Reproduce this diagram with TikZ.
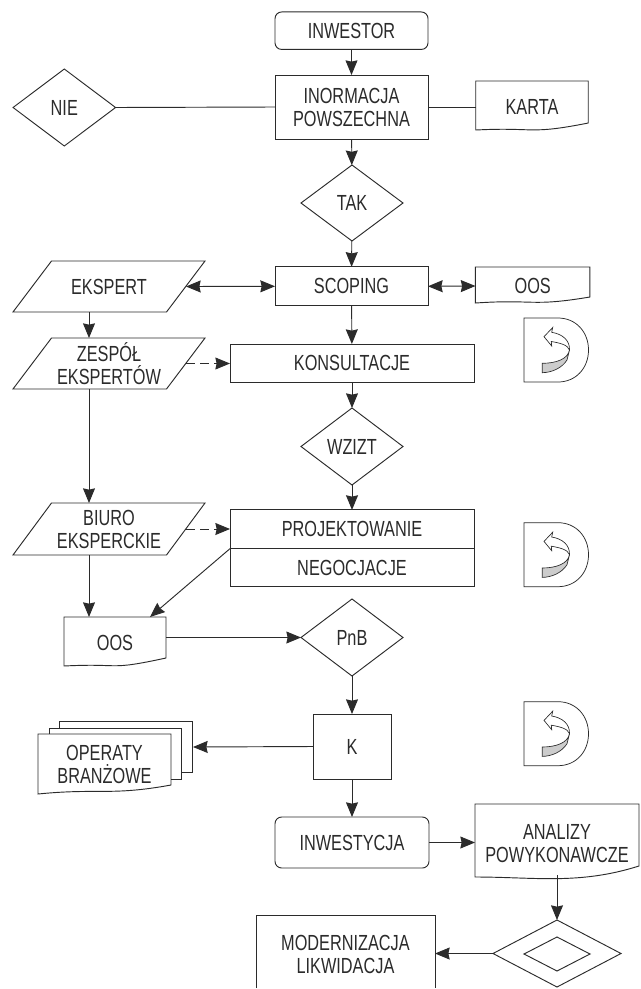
\documentclass[tikz,border=0pt]{standalone}
\usepackage{fontspec}
\setmainfont[FakeStretch=0.745]{Liberation Sans}
\usetikzlibrary{arrows.meta,shapes.geometric}
\definecolor{ink}{HTML}{2B2B2B}
\tikzset{
  base/.style={inner sep=0pt,outer sep=0pt,align=center,text=ink,
    font=\fontsize{16.4}{17.25}\selectfont},
  size/.style 2 args={minimum width=#1*0.75pt,minimum height=#2*0.75pt},
  box/.style={base,draw=ink,line width=.7pt},
  rbox/.style={box,rounded corners=5pt},
  free/.style={base},
  dec/.style={base,shape=diamond,draw=ink,line width=.7pt},
  outl/.style={draw=ink,line width=.7pt},
  conn/.style={draw=ink,line width=.7pt,>={Stealth[length=11pt,width=9pt,inset=1pt]}},
  dashconn/.style={conn,dash pattern=on 7pt off 3.5pt},
}
\newcommand{\docshape}[3]{% name, left-bottom offset, right-bottom offset
  \draw[outl] ([shift={(0,#2)}]#1.south west) -- (#1.north west) -- (#1.north east)
    -- ([shift={(0,#3)}]#1.south east)
    .. controls ([shift={(-60,2)}]#1.south east) and ([shift={(60,-6)}]#1.south west)
    .. ([shift={(0,#2)}]#1.south west) -- cycle;}
\newcommand{\parashape}[1]{%
  \draw[outl] (#1.south west) -- ([shift={(38.5,0)}]#1.north west) -- (#1.north east)
    -- ([shift={(-38.5,0)}]#1.south east) -- cycle;}
\newcommand{\dicon}[1]{%
  \begin{scope}[shift={(524,#1)}]
    \draw[draw=ink,line width=.55pt] (0,0) -- (34,0) .. controls (52,0) and (64.5,14) .. (64.5,32)
      .. controls (64.5,50) and (52,64) .. (34,64) -- (0,64) -- cycle;
    \draw[draw=ink,line width=.5pt,fill=black!20] (18.3,45.3) .. controls (32,45.3) and (44,41) .. (45.5,32)
      -- (43,42) .. controls (38,50) and (28,54.5) .. (18.3,54.7) -- cycle;
    \draw[draw=ink,line width=.5pt,fill=white] (45.5,32) .. controls (46,22) and (38,16) .. (27.7,14.3)
      -- (28.7,9.5) -- (20,18.7) -- (27.7,28) -- (27.3,23.5) .. controls (36,25) and (44,27) .. (45.5,32) -- cycle;
  \end{scope}}
\begin{document}
\begin{tikzpicture}[x=0.75pt,y=-0.75pt]
\useasboundingbox[fill=white] (0,0) rectangle (640,989);

% main column
\node[rbox,size={153}{37.5}] (inv) at (351.5,30.7) {INWESTOR};
\node[box,size={153}{64}] (inf) at (351.5,107) {INORMACJA\\POWSZECHNA};
\node[dec,size={102.5}{77}] (nie) at (64.3,107.5) {NIE};
\node[free,size={112.5}{52}] (kar) at (532,107) {KARTA};
\node[dec,size={102}{76}] (tak) at (352,203) {TAK};
\node[box,size={153}{39}] (sco) at (351.5,286.3) {SCOPING};
\node[free,size={192}{51}] (eks) at (109,286.5) {EKSPERT};
\node[free,size={114.5}{38}] (oo2) at (532.7,286) {OOS};
\node[free,size={192}{51}] (zes) at (109,363.5) {ZESPÓŁ\\EKSPERTÓW};
\node[box,size={244}{38}] (kon) at (352,363) {KONSULTACJE};
\node[dec,size={102}{77}] (wzi) at (352,446.5) {WZIZT};
\node[free,size={192}{52}] (biu) at (109,529) {BIURO\\EKSPERCKIE};
\node[box,size={244}{38.7}] (pro) at (352,529.3) {PROJEKTOWANIE};
\node[box,size={244}{38.3}] (neg) at (352,567.8) {NEGOCJACJE};
\node[free,size={102}{52}] (oo1) at (115,643) {OOS};
\node[dec,size={102}{77}] (pnb) at (352,637.5) {PnB};
\node[box,size={78}{65}] (k) at (352,746.5) {K};
\node[free,size={133}{60}] (ope) at (104.5,764) {OPERATY\\BRANŻOWE};
\node[rbox,size={154}{51}] (ine) at (352,842.5) {INWESTYCJA};
\node[free,size={164}{79}] (ana) at (557,843.5) {ANALIZY\\POWYKONAWCZE};
\node[dec,size={128}{67}] (dia) at (557,953.5) {};
\node[dec,size={66}{34}] (din) at (557,954) {};
\node[free,size={179}{78}] (mod) at (345.5,954) {MODERNIZACJA\\LIKWIDACJA};
\coordinate (opr) at (193,747);

% outlines of the shapes drawn around text
\docshape{kar}{-3}{-10}
\docshape{oo2}{-2}{-8}
\docshape{oo1}{-3}{-11}
\parashape{eks}
\parashape{zes}
\parashape{biu}
\draw[outl] (59,728) -- (59,721) -- (192,721) -- (192,772) -- (181,772);
\draw[outl] (49,734) -- (49,728) -- (181,728) -- (181,779) -- (171,779);
\docshape{ope}{0}{-9}
\docshape{ana}{-6}{-17}
\draw[outl] ([shift={(0,-5)}]mod.south west) -- (mod.north west) -- (mod.north east) -- ([shift={(0,-5)}]mod.south east);

% icons
\dicon{318}
\dicon{522.7}
\dicon{701.7}

% connectors
\draw[conn,->] (inv) -- (inf);
\draw[conn] (nie.east) -- (inf.west);
\draw[conn] (inf.east) -- (kar.west);
\draw[conn,->] (inf) -- (tak);
\draw[conn,->] (tak) -- (sco);
\draw[conn,<->] ([shift={(-19,0)}]eks.east) -- (sco.west);
\draw[conn,<->] (sco.east) -- (oo2.west);
\draw[conn,->] (sco) -- (kon);
\draw[conn,->] ([shift={(-20,0)}]eks.south) -- ([shift={(-20,0)}]zes.north);
\draw[dashconn,->] ([shift={(-19,0)}]zes.east) -- (zes.east -| kon.west);
\draw[conn,->] (kon) -- (wzi);
\draw[conn,->] ([shift={(-20,0)}]zes.south) -- ([shift={(-20,0)}]biu.north);
\draw[conn,->] (wzi) -- (pro);
\draw[dashconn,->] ([shift={(-19,0)}]biu.east) -- (biu.east -| pro.west);
\draw[conn,->] ([shift={(-20,0)}]biu.south) -- ([shift={(-26,0)}]oo1.north);
\draw[conn,->] (pro.south west) -- ([shift={(35,0)}]oo1.north);
\draw[conn,->] (pnb.west -| oo1.east) -- (pnb.west);
\draw[conn,->] (pnb) -- (k);
\draw[conn,->] (k.west) -- (opr);
\draw[conn,->] (k) -- (ine);
\draw[conn,->] (ine.east) -- (ine.east -| ana.west);
\draw[conn,->] ([shift={(0,-8)}]ana.south) -- (dia.north);
\draw[conn,->] (dia.west) -- (dia.west -| mod.east);
\end{tikzpicture}
\end{document}
